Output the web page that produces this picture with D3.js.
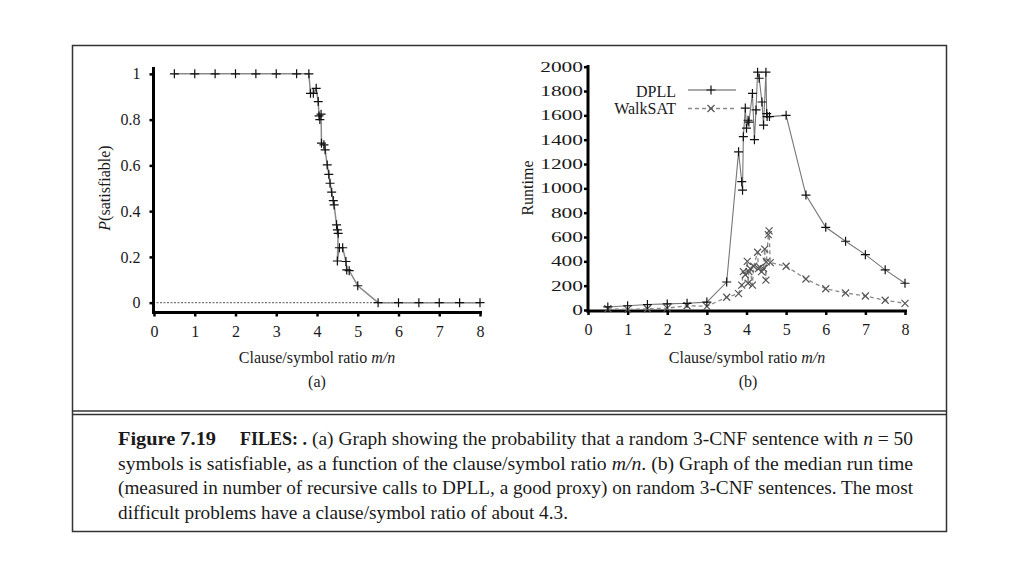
<!DOCTYPE html>
<html><head><meta charset="utf-8">
<script src="https://cdn.jsdelivr.net/npm/d3@7"></script>
<style>body{margin:0;background:#fff}svg{display:block}</style>
</head><body>
<svg id="c" width="1024" height="576"></svg>
<script>
// ---- data ----
const xTicks = [0,1,2,3,4,5,6,7,8];
const satTicks = [0,0.2,0.4,0.6,0.8,1];
const satTickLabels = ["0","0.2","0.4","0.6","0.8","1"];
const rtTicks = [0,200,400,600,800,1000,1200,1400,1600,1800,2000];

const satX = [0.5,1,1.5,2,2.5,3,3.5,3.8,3.84,3.91,3.98,4.03,4.05,4.07,4.1,4.11,4.17,4.2,4.25,4.29,4.32,4.36,4.4,4.42,4.48,4.5,4.52,4.5,4.55,4.63,4.71,4.73,4.79,5.0,5.5,6,6.5,7,7.5,8];
const satY = [1,1,1,1,1,1,1,1,0.915,0.915,0.937,0.879,0.816,0.80,0.824,0.697,0.69,0.668,0.602,0.561,0.522,0.483,0.446,0.427,0.34,0.318,0.303,0.182,0.24,0.24,0.18,0.143,0.14,0.074,0,0,0,0,0,0];

const dpllX = [0.5,1,1.5,2,2.5,3,3.5,3.8,3.88,3.9,3.92,3.97,4.0,4.04,4.06,4.15,4.2,4.24,4.28,4.32,4.39,4.43,4.49,4.51,4.52,4.58,5,5.5,6,6.5,7,7.5,8];
const dpllY = [25,35,45,50,55,65,230,1300,1055,985,1425,1660,1495,1560,1545,1780,1400,1645,1955,1905,1710,1520,1955,1615,1590,1590,1600,945,680,565,455,330,220];

const walkX = [0.5,1,1.5,2,2.5,3,3.5,3.8,3.88,3.92,3.97,4.02,4.04,4.06,4.09,4.15,4.18,4.28,4.3,4.34,4.38,4.43,4.46,4.49,4.5,4.55,4.57,4.6,5,5.5,6,6.5,7,7.5,8];
const walkY = [10,5,10,15,35,30,105,135,205,315,290,400,220,315,340,205,360,475,340,350,315,340,500,245,395,620,650,390,360,255,175,140,115,80,55];

const legendNames = ["DPLL","WalkSAT"];
const captionLines = [
  "symbols is satisfiable, as a function of the clause/symbol ratio ",
  "(measured in number of recursive calls to DPLL, a good proxy) on random 3-CNF sentences. The most",
  "difficult problems have a clause/symbol ratio of about 4.3."
];

// ---- drawing ----
const svg = d3.select("#c");
const FONT = "'Liberation Serif','DejaVu Serif',serif";
const INK = "#1a1a1a";

// frame
svg.append("rect").attr("x",72.5).attr("y",45.5).attr("width",874).attr("height",486)
  .attr("fill","none").attr("stroke","#333").attr("stroke-width",1.5);
[411,414.5].forEach(y=>svg.append("line").attr("x1",72).attr("x2",947).attr("y1",y).attr("y2",y)
  .attr("stroke","#333").attr("stroke-width",1.3));

function plus(g, pts, color){
  g.selectAll(null).data(pts).join("path")
    .attr("d",d=>`M${d[0]-4.5},${d[1]}h9M${d[0]},${d[1]-4.5}v9`)
    .attr("stroke",color).attr("stroke-width",1.2).attr("fill","none");
}
function cross(g, pts, color){
  g.selectAll(null).data(pts).join("path")
    .attr("d",d=>`M${d[0]-3.5},${d[1]-3.5}l7,7M${d[0]-3.5},${d[1]+3.5}l7,-7`)
    .attr("stroke",color).attr("stroke-width",1.2).attr("fill","none");
}

// ===== chart (a) =====
const xa = d3.scaleLinear().domain([0,8]).range([154,480]);
const ya = d3.scaleLinear().domain([-0.043,1.03]).range([312.5,67]);
const ga = svg.append("g");
ga.append("line").attr("x1",153).attr("x2",482).attr("y1",ya(0)).attr("y2",ya(0))
  .attr("stroke","#777").attr("stroke-width",1.2).attr("stroke-dasharray","2,1.5");
const axA = ga.append("g").attr("transform",`translate(0,${ya.range()[0]})`)
  .call(d3.axisBottom(xa).tickValues(xTicks).tickSize(4).tickSizeOuter(0).tickPadding(9));
const ayA = ga.append("g").attr("transform",`translate(${xa(0)-0.5},0)`)
  .call(d3.axisLeft(ya).tickValues(satTicks).tickFormat((d,i)=>satTickLabels[i]).tickSize(4).tickSizeOuter(0).tickPadding(9));
const ptsA = satX.map((x,i)=>[xa(x),ya(satY[i])]);
ga.append("path").attr("d",d3.line()(ptsA)).attr("fill","none").attr("stroke","#8a8a8a").attr("stroke-width",1.5);
plus(ga.append("g"), ptsA, "#111");

// ===== chart (b) =====
const xb = d3.scaleLinear().domain([0,8]).range([588,905]);
const yb = d3.scaleLinear().domain([0,2000]).range([310,66.7]);
const gb = svg.append("g");
const axB = gb.append("g").attr("transform",`translate(0,${yb(0)+1})`)
  .call(d3.axisBottom(xb).tickValues(xTicks).tickSize(4).tickSizeOuter(0).tickPadding(9));
const ayB = gb.append("g").attr("transform",`translate(${xb(0)},0)`)
  .call(d3.axisLeft(yb).tickValues(rtTicks).tickFormat(d3.format("d")).tickSize(4).tickSizeOuter(0).tickPadding(1));
const ptsW = walkX.map((x,i)=>[xb(x),yb(walkY[i])]);
const ptsD = dpllX.map((x,i)=>[xb(x),yb(dpllY[i])]);
gb.append("path").attr("d",d3.line()(ptsW)).attr("fill","none").attr("stroke","#8a8a8a")
  .attr("stroke-width",1.3).attr("stroke-dasharray","4,3");
cross(gb.append("g"), ptsW, "#555");
gb.append("path").attr("d",d3.line()(ptsD)).attr("fill","none").attr("stroke","#777").attr("stroke-width",1.1);
plus(gb.append("g"), ptsD, "#111");

// style axes
[axA,ayA,axB,ayB].forEach(a=>{
  a.select(".domain").attr("stroke","#000").attr("stroke-width",3);
  a.selectAll(".tick line").attr("stroke","#000").attr("stroke-width",2.5);
  a.selectAll("text").attr("font-family",FONT).attr("font-size",16).attr("fill",INK);
});
ayA.select(".domain").attr("d",`M0,${ya.range()[0]+1.5}V${ya.range()[1]}`);
axA.select(".domain").attr("d",`M152,0H482`);
ayB.select(".domain").attr("d",`M0,${yb(0)+2.5}V65`);
axB.select(".domain").attr("d",`M586.5,0H907`);
ayB.selectAll("text").attr("font-size",14)
  .attr("textLength",d=>String(d).length*10.7).attr("lengthAdjust","spacingAndGlyphs");

// legend
const lg = svg.append("g").attr("font-family",FONT).attr("font-size",16).attr("fill",INK);
lg.append("text").attr("x",676).attr("y",96.5).attr("text-anchor","end").text(legendNames[0]);
lg.append("text").attr("x",676).attr("y",114).attr("text-anchor","end").text(legendNames[1]);
lg.append("line").attr("x1",688).attr("x2",736).attr("y1",90).attr("y2",90).attr("stroke","#555").attr("stroke-width",1.1);
plus(lg.append("g"), [[711,90]], "#111");
lg.append("line").attr("x1",688).attr("x2",736).attr("y1",108.5).attr("y2",108.5).attr("stroke","#8a8a8a")
  .attr("stroke-width",1.3).attr("stroke-dasharray","4,3");
cross(lg.append("g"), [[711,108.5]], "#555");

// axis titles
const T = svg.append("g").attr("font-family",FONT).attr("font-size",16).attr("fill",INK);
function xTitle(cx, y){
  const t = T.append("text").attr("x",cx).attr("y",y).attr("text-anchor","middle");
  t.append("tspan").text("Clause/symbol ratio ");
  t.append("tspan").attr("font-style","italic").text("m/n");
}
xTitle(317,362.5); xTitle(747,362.5);
T.append("text").attr("x",317).attr("y",386.5).attr("text-anchor","middle").text("(a)");
T.append("text").attr("x",748).attr("y",386.5).attr("text-anchor","middle").text("(b)");
const yl = T.append("text").attr("transform","translate(110,188) rotate(-90)").attr("text-anchor","middle");
yl.append("tspan").attr("font-style","italic").text("P");
yl.append("tspan").text("(satisfiable)");
T.append("text").attr("transform","translate(533,188) rotate(-90)").attr("text-anchor","middle").text("Runtime");

// caption
const C = svg.append("g").attr("font-family",FONT).attr("font-size",18.5).attr("fill",INK);
C.append("text").attr("x",118).attr("y",445).attr("font-weight","bold")
  .attr("textLength",98).attr("lengthAdjust","spacingAndGlyphs").text("Figure 7.19");
C.append("text").attr("x",240).attr("y",445).attr("font-weight","bold")
  .attr("textLength",67).attr("lengthAdjust","spacingAndGlyphs").text("FILES: .");
const l1 = C.append("text").attr("x",312).attr("y",445).attr("textLength",601).attr("lengthAdjust","spacingAndGlyphs");
l1.append("tspan").text("(a) Graph showing the probability that a random 3-CNF sentence with ");
l1.append("tspan").attr("font-style","italic").text("n");
l1.append("tspan").text(" = 50");
const l2 = C.append("text").attr("x",118).attr("y",469.5).attr("textLength",795).attr("lengthAdjust","spacingAndGlyphs");
l2.append("tspan").text(captionLines[0]);
l2.append("tspan").attr("font-style","italic").text("m/n");
l2.append("tspan").text(". (b) Graph of the median run time");
C.append("text").attr("x",118).attr("y",494).attr("textLength",795).attr("lengthAdjust","spacingAndGlyphs").text(captionLines[1]);
C.append("text").attr("x",118).attr("y",518.5).attr("textLength",450).attr("lengthAdjust","spacingAndGlyphs").text(captionLines[2]);
</script>
</body></html>
